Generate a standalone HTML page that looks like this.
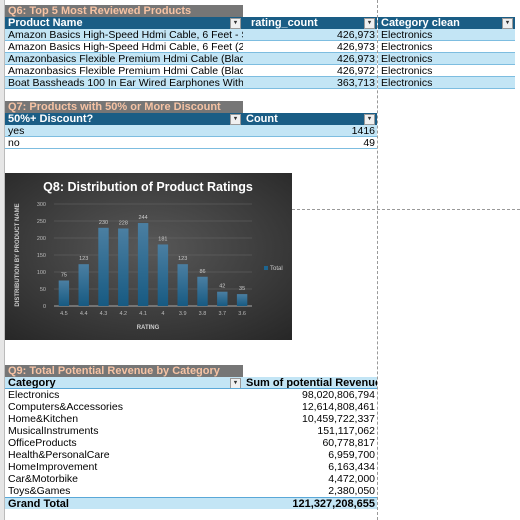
<!DOCTYPE html>
<html><head><meta charset="utf-8"><style>
body{margin:0;width:520px;height:520px;background:#fff;position:relative;overflow:hidden;font-family:"Liberation Sans",sans-serif;font-size:10.5px;color:#000}
.a{position:absolute;box-sizing:border-box;white-space:nowrap;overflow:hidden;line-height:12px;height:12px}
.t{background:#767676;color:#f6c3a4;font-weight:bold;font-size:11px;padding-left:3px}
.h{background:#1a5d85;color:#fff;font-weight:bold;padding-left:3px;font-size:11px}
.hl{background:#c3e5f5;font-weight:bold;padding-left:3px;font-size:11px}
.l{background:#c3e5f5;border-bottom:1px solid #7dbde0}
.w{background:#fff;border-bottom:1px solid #7dbde0}
.p{padding-left:3px}.r{text-align:right;padding-right:2px}
.dd{position:absolute;width:9px;height:9px;background:#f0f0f0;border:1px solid #999;top:1px;font-size:6px;line-height:9px;text-align:center;color:#333}
</style></head><body>
<div style="position:absolute;left:0;top:0;width:4px;height:520px;background:#e6e6e6;border-right:1px solid #bbb"></div>
<div style="position:absolute;left:377px;top:0;height:520px;border-left:1px dashed #999"></div>
<div style="position:absolute;left:292px;top:209px;width:228px;border-top:1px dashed #999"></div>

<div class="a t" style="left:5px;top:5px;width:238px">Q6: Top 5 Most Reviewed Products</div>
<div class="a h" style="left:5px;top:17px;width:238px">Product Name<span class="dd" style="right:2px">▾</span></div>
<div class="a h" style="left:243px;top:17px;width:134px;padding-left:8px">rating_count<span class="dd" style="right:2px">▾</span></div>
<div class="a h" style="left:378px;top:17px;width:137px">Category clean<span class="dd" style="right:2px">▾</span></div>
<div id="q6"></div>

<div class="a t" style="left:5px;top:101px;width:238px">Q7: Products with 50% or More Discount</div>
<div class="a h" style="left:5px;top:113px;width:238px">50%+ Discount?<span class="dd" style="right:2px">▾</span></div>
<div class="a h" style="left:243px;top:113px;width:134px">Count<span class="dd" style="right:2px">▾</span></div>
<div class="a l p" style="left:5px;top:125px;width:238px">yes</div>
<div class="a l r" style="left:243px;top:125px;width:134px">1416</div>
<div class="a w p" style="left:5px;top:137px;width:238px">no</div>
<div class="a w r" style="left:243px;top:137px;width:134px">49</div>

<svg style="position:absolute;left:5px;top:173px" width="287" height="167" viewBox="5 173 287 167">
<defs>
<radialGradient id="bg" cx="0.5" cy="0.45" r="0.75"><stop offset="0" stop-color="#585858"/><stop offset="1" stop-color="#262626"/></radialGradient>
<linearGradient id="bar" x1="0" y1="0" x2="0" y2="1"><stop offset="0" stop-color="#4b7fa2"/><stop offset="1" stop-color="#175a82"/></linearGradient>
</defs>
<rect x="5" y="173" width="287" height="167" fill="url(#bg)"/>
<text x="148" y="191" fill="#fff" font-size="12.5" font-weight="bold" text-anchor="middle">Q8: Distribution of Product Ratings</text>
<text transform="translate(19,255) rotate(-90)" fill="#ccc" font-size="6" font-weight="bold" text-anchor="middle">DISTRIBUTION BY PRODUCT NAME</text>
<text x="148" y="329" fill="#ccc" font-size="6" font-weight="bold" text-anchor="middle">RATING</text>
<g id="plot"></g>
<rect x="264" y="266" width="4" height="4" fill="#1d6590"/>
<text x="270" y="270" fill="#ccc" font-size="6">Total</text>
</svg>

<div class="a t" style="left:5px;top:365px;width:238px">Q9: Total Potential Revenue by Category</div>
<div class="a hl" style="left:5px;top:377px;width:238px;border-bottom:1px solid #5aa8d8">Category<span class="dd" style="right:2px">▾</span></div>
<div class="a hl" style="left:243px;top:377px;width:134px;border-bottom:1px solid #5aa8d8">Sum of potential Revenue</div>
<div id="q9"></div>
<div class="a hl" style="left:5px;top:497px;width:238px;border-top:1px solid #5aa8d8">Grand Total</div>
<div class="a hl r" style="left:243px;top:497px;width:134px;border-top:1px solid #5aa8d8">121,327,208,655</div>

<script>
const q6Names=["Amazon Basics High-Speed Hdmi Cable, 6 Feet - Supports","Amazon Basics High-Speed Hdmi Cable, 6 Feet (2-Pack)","Amazonbasics Flexible Premium Hdmi Cable (Black, 4K","Amazonbasics Flexible Premium Hdmi Cable (Black, 4K","Boat Bassheads 100 In Ear Wired Earphones With Mic"];
const q6Counts=["426,973","426,973","426,973","426,972","363,713"];
const q9Cats=["Electronics","Computers&Accessories","Home&Kitchen","MusicalInstruments","OfficeProducts","Health&PersonalCare","HomeImprovement","Car&Motorbike","Toys&Games"];
const q9Vals=["98,020,806,794","12,614,808,461","10,459,722,337","151,117,062","60,778,817","6,959,700","6,163,434","4,472,000","2,380,050"];
const ratings=["4.5","4.4","4.3","4.2","4.1","4","3.9","3.8","3.7","3.6"];
const totals=[75,123,230,228,244,181,123,86,42,35];
const yTicks=[0,50,100,150,200,250,300];

function cell(cls,l,t,w,txt,name){const d=document.createElement('div');d.className='a '+cls;d.style.cssText=`left:${l}px;top:${t}px;width:${w}px`;d.textContent=txt;


document.body.appendChild(d);}
q6Names.forEach((n,i)=>{const c=i%2?'w':'l';const t=29+i*12;
cell(c+' p',5,t,238,n,'product-name-cell');cell(c+' r',243,t,134,q6Counts[i],'rating-count-cell');cell(c+' p',378,t,137,'Electronics','category-cell');});
q9Cats.forEach((n,i)=>{const t=389+i*12;cell('p',5,t,238,n,'category-cell');cell('r',243,t,134,q9Vals[i],'revenue-cell');});

const NS='http://www.w3.org/2000/svg',g=document.getElementById('plot');
const x0=54,x1=252,yb=306,yt=204,ymax=300;
const Y=v=>yb-(v/ymax)*(yb-yt);const step=(x1-x0)/ratings.length;const X=i=>x0+step*(i+0.5);
function el(tag,a,txt){const e=document.createElementNS(NS,tag);for(const k in a)e.setAttribute(k,a[k]);if(txt!=null)e.textContent=txt;g.appendChild(e);return e;}
yTicks.forEach(v=>{const ln=el('line',{x1:x0,x2:x1,y1:Y(v),y2:Y(v),stroke:v?'#6a6a6a':'#aaa','stroke-width':v?0.6:1});


const t=el('text',{x:x0-8,y:Y(v)+2,fill:'#bbb','font-size':5.5,'text-anchor':'end'},v);

});
totals.forEach((v,i)=>{const b=el('rect',{x:X(i)-5.2,y:Y(v),width:10.4,height:yb-Y(v),fill:'url(#bar)'});


const lb=el('text',{x:X(i),y:Y(v)-4,fill:'#ccc','font-size':5.5,'text-anchor':'middle'},v);


const xt=el('text',{x:X(i),y:315,fill:'#bbb','font-size':5.5,'text-anchor':'middle'},ratings[i]);

});
</script>
</body></html>
